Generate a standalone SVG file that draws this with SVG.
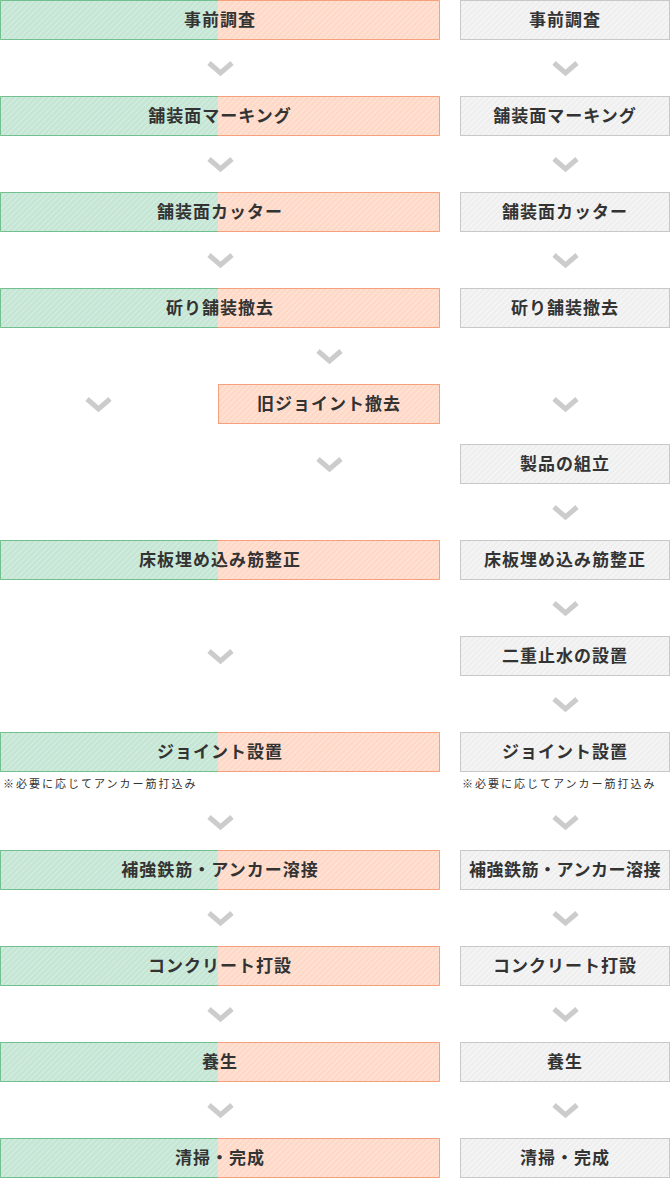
<svg xmlns="http://www.w3.org/2000/svg" width="670" height="1178" viewBox="0 0 670 1178">
<defs>
<pattern id="pg" patternUnits="userSpaceOnUse" width="4" height="4" patternTransform="rotate(45)">
<rect width="4" height="4" fill="#c5e6d5"/><rect width="1" height="4" fill="#d6eee2"/>
</pattern>
<pattern id="po" patternUnits="userSpaceOnUse" width="4" height="4" patternTransform="rotate(45)">
<rect width="4" height="4" fill="#ffd9c8"/><rect width="1" height="4" fill="#ffe6da"/>
</pattern>
<pattern id="pw" patternUnits="userSpaceOnUse" width="4" height="4" patternTransform="rotate(45)">
<rect width="4" height="4" fill="#efefef"/><rect width="1" height="4" fill="#f8f8f8"/>
</pattern>
</defs>
<style>
.fg{fill:url(#pg)}
.fo{fill:url(#po)}
.bg{fill:none;stroke:#72bf8f;stroke-width:1}
.bo{fill:none;stroke:#f7a07c;stroke-width:1}
.rb{fill:url(#pw);stroke:#c8c8c8;stroke-width:1}
.t{font-family:"Noto Sans CJK JP","Noto Sans CJK SC",sans-serif;font-size:17px;font-weight:bold;fill:#333;text-anchor:middle;letter-spacing:1px}
.n{font-family:"Noto Sans CJK JP","Noto Sans CJK SC",sans-serif;font-size:11px;fill:#333;letter-spacing:2px}
.ch{fill:none;stroke:#cccccc;stroke-width:5;stroke-linejoin:miter}
</style>

<g id="left-1">
<rect class="fg" x="0" y="0" width="218" height="40"/><rect class="fo" x="218" y="0" width="222" height="40"/>
<path class="bg" d="M218,0.5H0.5V39.5H218"/><path class="bo" d="M218,0.5H439.5V39.5H218"/>
<text class="t" x="220" y="26">事前調査</text>
</g>
<g id="left-2">
<rect class="fg" x="0" y="96" width="218" height="40"/><rect class="fo" x="218" y="96" width="222" height="40"/>
<path class="bg" d="M218,96.5H0.5V135.5H218"/><path class="bo" d="M218,96.5H439.5V135.5H218"/>
<text class="t" x="220" y="122">舗装面マーキング</text>
</g>
<g id="left-3">
<rect class="fg" x="0" y="192" width="218" height="40"/><rect class="fo" x="218" y="192" width="222" height="40"/>
<path class="bg" d="M218,192.5H0.5V231.5H218"/><path class="bo" d="M218,192.5H439.5V231.5H218"/>
<text class="t" x="220" y="218">舗装面カッター</text>
</g>
<g id="left-4">
<rect class="fg" x="0" y="288" width="218" height="40"/><rect class="fo" x="218" y="288" width="222" height="40"/>
<path class="bg" d="M218,288.5H0.5V327.5H218"/><path class="bo" d="M218,288.5H439.5V327.5H218"/>
<text class="t" x="220" y="314">斫り舗装撤去</text>
</g>
<g id="left-old-joint">
<rect class="fo" x="218" y="384" width="222" height="40"/>
<rect class="bo" x="218.5" y="384.5" width="221" height="39"/>
<text class="t" x="329" y="410">旧ジョイント撤去</text>
</g>
<g id="left-5">
<rect class="fg" x="0" y="540" width="218" height="40"/><rect class="fo" x="218" y="540" width="222" height="40"/>
<path class="bg" d="M218,540.5H0.5V579.5H218"/><path class="bo" d="M218,540.5H439.5V579.5H218"/>
<text class="t" x="220" y="566">床板埋め込み筋整正</text>
</g>
<g id="left-6">
<rect class="fg" x="0" y="732" width="218" height="40"/><rect class="fo" x="218" y="732" width="222" height="40"/>
<path class="bg" d="M218,732.5H0.5V771.5H218"/><path class="bo" d="M218,732.5H439.5V771.5H218"/>
<text class="t" x="220" y="758">ジョイント設置</text>
<text class="n" x="3" y="788">※必要に応じてアンカー筋打込み</text>
</g>
<g id="left-7">
<rect class="fg" x="0" y="850" width="218" height="40"/><rect class="fo" x="218" y="850" width="222" height="40"/>
<path class="bg" d="M218,850.5H0.5V889.5H218"/><path class="bo" d="M218,850.5H439.5V889.5H218"/>
<text class="t" x="220" y="876">補強鉄筋・アンカー溶接</text>
</g>
<g id="left-8">
<rect class="fg" x="0" y="946" width="218" height="40"/><rect class="fo" x="218" y="946" width="222" height="40"/>
<path class="bg" d="M218,946.5H0.5V985.5H218"/><path class="bo" d="M218,946.5H439.5V985.5H218"/>
<text class="t" x="220" y="972">コンクリート打設</text>
</g>
<g id="left-9">
<rect class="fg" x="0" y="1042" width="218" height="40"/><rect class="fo" x="218" y="1042" width="222" height="40"/>
<path class="bg" d="M218,1042.5H0.5V1081.5H218"/><path class="bo" d="M218,1042.5H439.5V1081.5H218"/>
<text class="t" x="220" y="1068">養生</text>
</g>
<g id="left-10">
<rect class="fg" x="0" y="1138" width="218" height="40"/><rect class="fo" x="218" y="1138" width="222" height="40"/>
<path class="bg" d="M218,1138.5H0.5V1177.5H218"/><path class="bo" d="M218,1138.5H439.5V1177.5H218"/>
<text class="t" x="220" y="1164">清掃・完成</text>
</g>

<g id="right-1"><rect class="rb" x="460.5" y="0.5" width="209" height="39"/><text class="t" x="565" y="26">事前調査</text></g>
<g id="right-2"><rect class="rb" x="460.5" y="96.5" width="209" height="39"/><text class="t" x="565" y="122">舗装面マーキング</text></g>
<g id="right-3"><rect class="rb" x="460.5" y="192.5" width="209" height="39"/><text class="t" x="565" y="218">舗装面カッター</text></g>
<g id="right-4"><rect class="rb" x="460.5" y="288.5" width="209" height="39"/><text class="t" x="565" y="314">斫り舗装撤去</text></g>
<g id="right-5"><rect class="rb" x="460.5" y="444.5" width="209" height="39"/><text class="t" x="565" y="470">製品の組立</text></g>
<g id="right-6"><rect class="rb" x="460.5" y="540.5" width="209" height="39"/><text class="t" x="565" y="566">床板埋め込み筋整正</text></g>
<g id="right-7"><rect class="rb" x="460.5" y="636.5" width="209" height="39"/><text class="t" x="565" y="662">二重止水の設置</text></g>
<g id="right-8"><rect class="rb" x="460.5" y="732.5" width="209" height="39"/><text class="t" x="565" y="758">ジョイント設置</text>
<text class="n" x="462" y="788">※必要に応じてアンカー筋打込み</text></g>
<g id="right-9"><rect class="rb" x="460.5" y="850.5" width="209" height="39"/><text class="t" x="565" y="876" style="letter-spacing:0.5px">補強鉄筋・アンカー溶接</text></g>
<g id="right-10"><rect class="rb" x="460.5" y="946.5" width="209" height="39"/><text class="t" x="565" y="972">コンクリート打設</text></g>
<g id="right-11"><rect class="rb" x="460.5" y="1042.5" width="209" height="39"/><text class="t" x="565" y="1068">養生</text></g>
<g id="right-12"><rect class="rb" x="460.5" y="1138.5" width="209" height="39"/><text class="t" x="565" y="1164">清掃・完成</text></g>

<g id="connectors">
<polyline class="ch" points="209,63 220.5,73 232,63"/>
<polyline class="ch" points="209,159 220.5,169 232,159"/>
<polyline class="ch" points="209,255 220.5,265 232,255"/>
<polyline class="ch" points="318,351 329.5,361 341,351"/>
<polyline class="ch" points="87,399 98.5,409 110,399"/>
<polyline class="ch" points="318,459 329.5,469 341,459"/>
<polyline class="ch" points="209,651 220.5,661 232,651"/>
<polyline class="ch" points="209,817 220.5,827 232,817"/>
<polyline class="ch" points="209,913 220.5,923 232,913"/>
<polyline class="ch" points="209,1009 220.5,1019 232,1009"/>
<polyline class="ch" points="209,1105 220.5,1115 232,1105"/>
<polyline class="ch" points="554,63 565.5,73 577,63"/>
<polyline class="ch" points="554,159 565.5,169 577,159"/>
<polyline class="ch" points="554,255 565.5,265 577,255"/>
<polyline class="ch" points="554,399 565.5,409 577,399"/>
<polyline class="ch" points="554,507 565.5,517 577,507"/>
<polyline class="ch" points="554,603 565.5,613 577,603"/>
<polyline class="ch" points="554,699 565.5,709 577,699"/>
<polyline class="ch" points="554,817 565.5,827 577,817"/>
<polyline class="ch" points="554,913 565.5,923 577,913"/>
<polyline class="ch" points="554,1009 565.5,1019 577,1009"/>
<polyline class="ch" points="554,1105 565.5,1115 577,1105"/>
</g>
</svg>
